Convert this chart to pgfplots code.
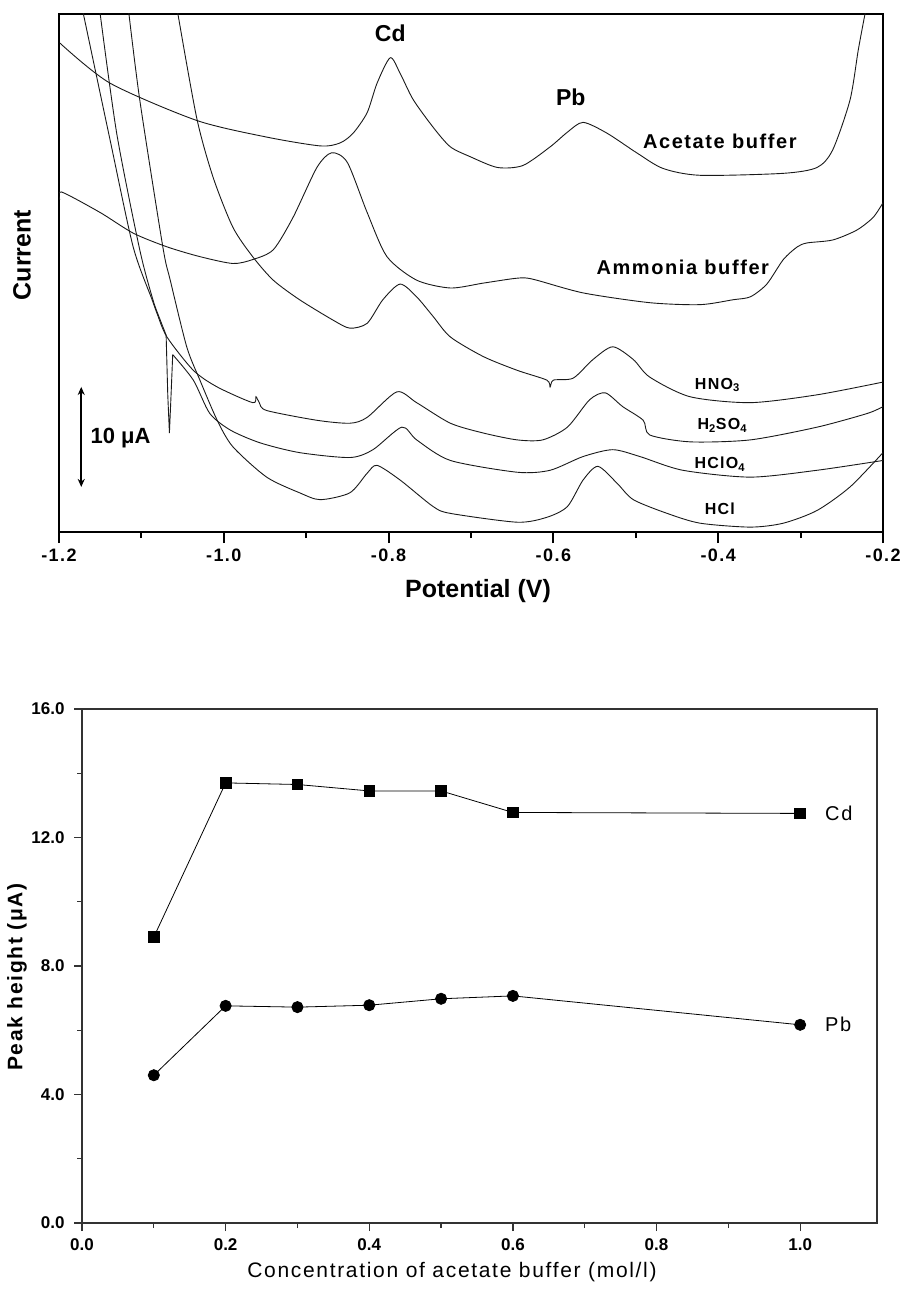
\documentclass[border=0pt]{standalone}
\usepackage{fontspec}
\setmainfont{Liberation Sans}
\newfontfamily\lsp[LetterSpace=8]{Liberation Sans}
\usepackage{pgfplots}
\pgfplotsset{compat=1.18}
\usetikzlibrary{arrows.meta}
\newcommand{\fs}[1]{\fontsize{#1}{#1}\selectfont}
\pgfplotsset{tp/.style={black!90, line width=0.9pt, solid, no markers, smooth, tension=0.45}}
\begin{document}
\begin{tikzpicture}
\path[use as bounding box] (0,0) rectangle (901pt,-1292pt);
% ---------------- top panel ----------------
\begin{axis}[at={(59pt,-532pt)}, anchor=south west, scale only axis,
  width=824pt, height=518pt,
  xmin=-1.2, xmax=-0.2, ymin=0, ymax=52.86,
  axis line style={line width=2pt},
  ytick=\empty,
  xtick={-1.2,-1.0,-0.8,-0.6,-0.4,-0.2},
  xticklabels={{-1.2},{-1.0},{-0.8},{-0.6},{-0.4},{-0.2}},
  minor x tick num=1, xtick pos=bottom, tick align=outside,
  major tick length=11pt, minor tick length=6pt,
  every tick/.style={line width=2pt, black},
  xticklabel style={font=\bfseries\lsp\fs{18}, yshift=-2pt}]
% Acetate buffer
\addplot[tp] coordinates {(-1.199,49.9) (-1.138,45.8) (-1.033,42.0) (-0.948,40.3) (-0.883,39.4) (-0.859,39.7) (-0.843,40.7) (-0.826,42.8) (-0.814,45.8) (-0.798,48.4) (-0.786,46.8) (-0.770,44.1) (-0.745,41.2) (-0.725,39.3) (-0.701,38.3) (-0.668,37.2) (-0.637,37.4) (-0.604,39.3) (-0.583,40.8) (-0.564,41.8) (-0.535,40.7) (-0.499,38.7) (-0.467,37.1) (-0.422,36.4) (-0.321,36.6) (-0.280,37.2) (-0.261,39.0) (-0.240,44.1) (-0.230,49.2) (-0.222,52.8) (-0.218,54.5)};
% Ammonia buffer
\addplot[tp] coordinates {(-1.199,33.9) (-1.197,34.7) (-1.150,32.6) (-1.110,30.5) (-1.069,29.1) (-1.029,28.1) (-0.989,27.4) (-0.965,27.8) (-0.940,28.8) (-0.916,32.1) (-0.887,37.2) (-0.869,38.7) (-0.850,37.7) (-0.826,32.6) (-0.802,28.1) (-0.766,25.7) (-0.725,24.9) (-0.685,25.4) (-0.644,25.9) (-0.625,25.8) (-0.564,24.4) (-0.483,23.4) (-0.422,23.2) (-0.382,23.7) (-0.361,24.0) (-0.341,25.3) (-0.321,27.8) (-0.304,29.1) (-0.292,29.5) (-0.261,29.8) (-0.232,30.8) (-0.212,32.1) (-0.200,33.6)};
% HNO3
\addplot[tp] coordinates {(-1.057,53.5) (-1.033,42.3) (-1.013,36.2) (-0.989,31.1) (-0.965,28.1) (-0.940,25.7) (-0.908,23.7) (-0.867,21.6) (-0.847,20.8) (-0.826,21.3) (-0.807,23.7) (-0.786,25.3) (-0.766,24.0) (-0.746,22.0) (-0.725,19.9) (-0.685,17.9) (-0.644,16.5) (-0.608,15.5) (-0.604,14.8) (-0.600,15.5) (-0.576,15.7) (-0.552,17.6) (-0.528,18.9) (-0.503,17.6) (-0.483,15.8) (-0.434,13.8) (-0.361,13.2) (-0.280,14.0) (-0.200,15.3)};
% H2SO4
\addplot[tp] coordinates {(-1.172,53.5) (-1.138,40.0) (-1.110,29.1) (-1.087,23.7) (-1.081,22.3) (-1.069,19.9) (-1.037,16.5) (-1.008,14.8) (-0.965,13.2) (-0.961,13.8) (-0.957,13.2) (-0.948,12.4) (-0.887,11.4) (-0.847,11.1) (-0.826,11.7) (-0.790,14.3) (-0.766,13.2) (-0.725,11.1) (-0.685,10.1) (-0.644,9.4) (-0.613,9.4) (-0.583,10.7) (-0.556,13.5) (-0.537,14.2) (-0.516,12.8) (-0.491,11.4) (-0.483,9.9) (-0.434,9.2) (-0.361,9.4) (-0.280,10.7) (-0.219,12.1) (-0.200,12.8)};
% HClO4
\addplot[tp] coordinates {(-1.151,53.5) (-1.130,40.7) (-1.102,28.8) (-1.086,23.7) (-1.077,21.6) (-1.070,20.1)};
\addplot[tp, sharp plot] coordinates {(-1.070,20.1) (-1.068,14.0) (-1.066,10.1) (-1.064,14.0) (-1.062,18.1)};
\addplot[tp] coordinates {(-1.062,18.1) (-1.037,15.5) (-1.017,12.1) (-0.992,10.4) (-0.956,9.1) (-0.908,8.1) (-0.847,7.6) (-0.819,8.4) (-0.784,10.7) (-0.766,9.4) (-0.725,7.3) (-0.644,6.1) (-0.604,6.3) (-0.564,7.7) (-0.528,8.4) (-0.495,7.7) (-0.443,6.3) (-0.361,5.6) (-0.280,6.3) (-0.200,7.3)};
% HCl
\addplot[tp] coordinates {(-1.116,53.5) (-1.102,44.1) (-1.074,29.1) (-1.065,25.7) (-1.045,18.9) (-1.029,15.5) (-1.008,11.4) (-0.989,8.7) (-0.948,5.6) (-0.908,4.0) (-0.883,3.3) (-0.847,4.0) (-0.826,6.0) (-0.814,6.8) (-0.786,5.3) (-0.746,2.6) (-0.725,1.9) (-0.644,1.0) (-0.608,1.5) (-0.583,2.6) (-0.564,5.3) (-0.546,6.7) (-0.523,5.0) (-0.503,3.3) (-0.462,1.9) (-0.422,0.9) (-0.361,0.5) (-0.321,0.9) (-0.280,2.2) (-0.240,4.6) (-0.200,8.1)};
% annotations
\draw[line width=1.6pt, {Stealth[length=8pt,width=7pt]}-{Stealth[length=8pt,width=7pt]}] (axis cs:-1.173,14.8) -- (axis cs:-1.173,4.6);
\node[anchor=west, font=\bfseries\fs{22}] at (axis cs:-1.166,9.6) {10 μA};
\node[font=\bfseries\fs{23}] at (axis cs:-0.798,50.9) {Cd};
\node[font=\bfseries\fs{23}] at (axis cs:-0.579,44.4) {Pb};
\node[font=\bfseries\lsp\fs{20}] at (axis cs:-0.398,39.9) {Acetate buffer};
\node[font=\bfseries\lsp\fs{20}] at (axis cs:-0.443,27.0) {Ammonia buffer};
\node[font=\bfseries\lsp\fs{16}] at (axis cs:-0.401,15.0) {HNO\textsubscript{3}};
\node[font=\bfseries\lsp\fs{16}] at (axis cs:-0.395,10.9) {H\textsubscript{2}SO\textsubscript{4}};
\node[font=\bfseries\lsp\fs{16}] at (axis cs:-0.398,6.9) {HClO\textsubscript{4}};
\node[font=\bfseries\lsp\fs{16}] at (axis cs:-0.398,2.4) {HCl};
\end{axis}
\node[rotate=90, font=\bfseries\fs{25}] at (22pt,-255pt) {Current};
\node[font=\bfseries\fs{25}] at (478pt,-591pt) {Potential (V)};
% ---------------- bottom panel ----------------
\begin{axis}[at={(82pt,-1223pt)}, anchor=south west, scale only axis,
  width=795pt, height=514pt,
  xmin=0, xmax=1.107, ymin=0, ymax=16,
  axis line style={line width=1.3pt, black!80},
  xtick={0,0.2,0.4,0.6,0.8,1.0},
  xticklabels={0.0,0.2,0.4,0.6,0.8,1.0},
  ytick={0,4,8,12,16},
  yticklabels={0.0,4.0,8.0,12.0,16.0},
  minor x tick num=1, minor y tick num=1,
  xtick pos=bottom, ytick pos=left, tick align=outside,
  major tick length=8pt, minor tick length=5pt,
  every tick/.style={line width=1.2pt, black!80},
  ticklabel style={font=\bfseries\fs{17}},
  xticklabel style={yshift=-4pt},
  yticklabel style={xshift=-6pt}]
\addplot[black, line width=0.8pt, mark=square*, mark size=5.3pt] coordinates {(0.1,8.9) (0.2,13.7) (0.3,13.65) (0.4,13.45) (0.5,13.45) (0.6,12.78) (1.0,12.75)};
\addplot[black, line width=0.8pt, mark=*, mark size=5.6pt] coordinates {(0.1,4.6) (0.2,6.76) (0.3,6.72) (0.4,6.78) (0.5,6.98) (0.6,7.07) (1.0,6.17)};
\node[anchor=west, font=\lsp\fs{20}] at (axis cs:1.03,12.75) {Cd};
\node[anchor=west, font=\lsp\fs{20}] at (axis cs:1.03,6.17) {Pb};
\end{axis}
\node[rotate=90, font=\bfseries\lsp\fs{21}] at (17pt,-977pt) {Peak height (μA)};
\node[font=\lsp\fs{21}] at (452pt,-1272pt) {Concentration of acetate buffer (mol/l)};
\end{tikzpicture}
\end{document}
